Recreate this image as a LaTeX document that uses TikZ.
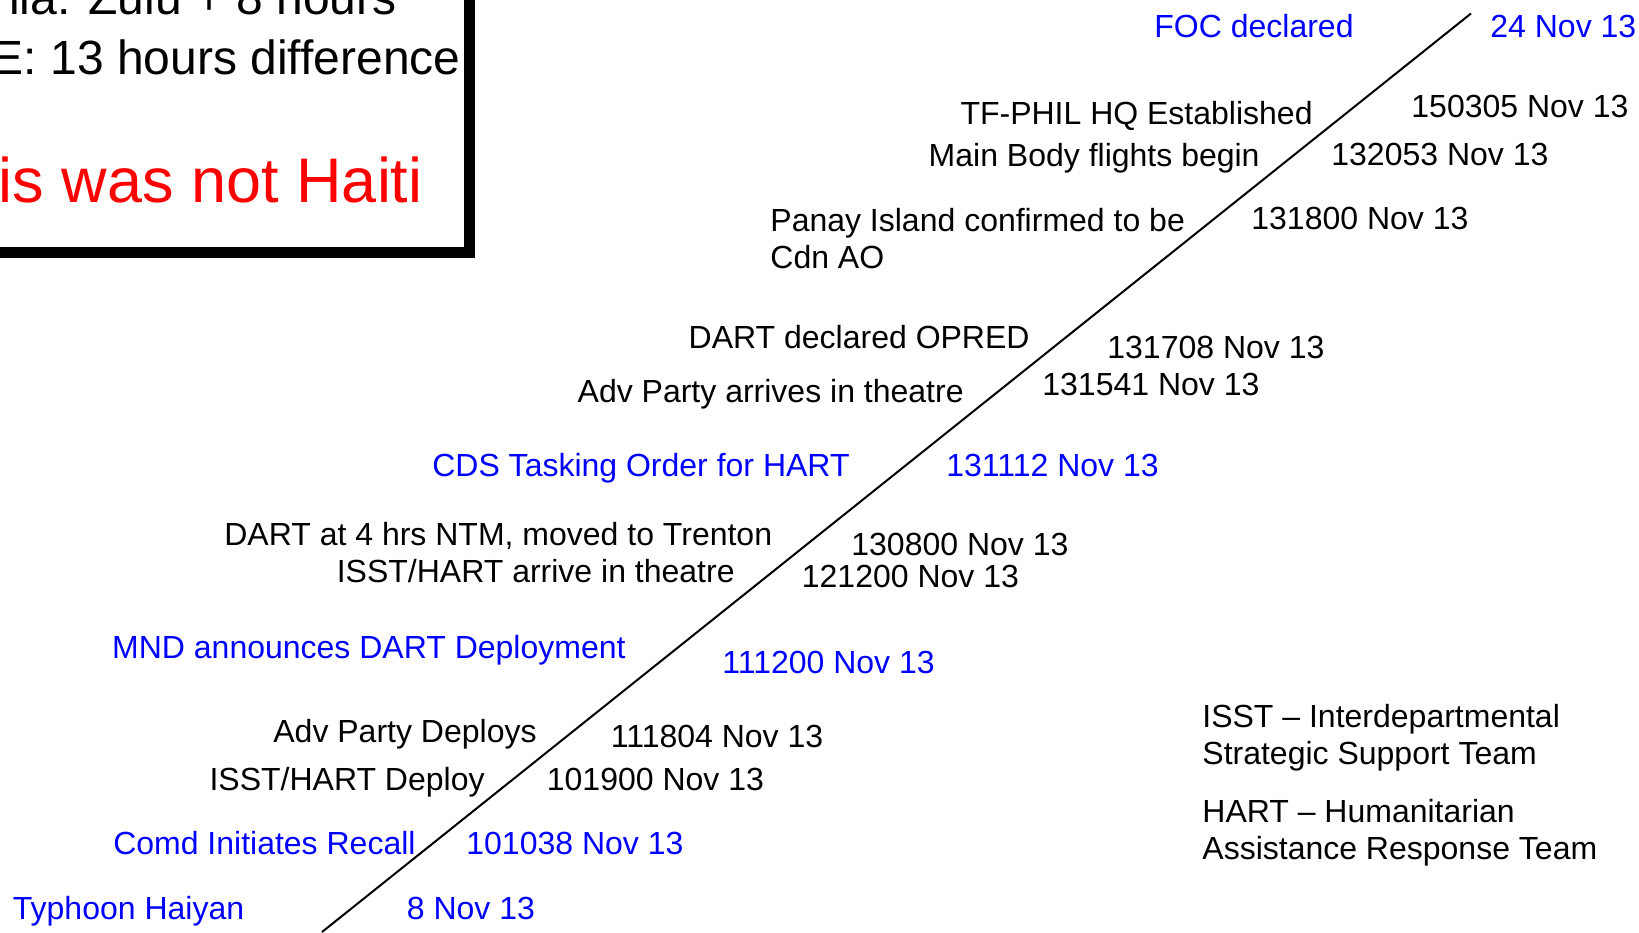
\documentclass[tikz,border=0pt]{standalone}
\usepackage{fontspec}
\setmainfont{Liberation Sans}
\usetikzlibrary{positioning}
\tikzstyle{every label text} = [inner sep=0pt, font=\fontsize{16}{18.75}\selectfont]
\tikzstyle{event} = [every label text, anchor=base east]
\tikzstyle{stamp} = [every label text, anchor=base west]
\tikzstyle{notes} = [every label text, anchor=north west, align=left]
\tikzstyle{milestone} = [text=blue]

\begin{document}
\begin{tikzpicture}[x=0.5pt,y=-0.5pt]
                    \useasboundingbox (0,0) rectangle (1639,932);
                    \clip (0,0) rectangle (1639,932);
                    % time zone box, cut by the slide edge
                    \draw[line width=5.5pt] (-40,-40) rectangle (469,252.5);
                    \node[anchor=base east, inner sep=0pt, font=\fontsize{24}{28}\selectfont] (zulu) at (397,14) {ila: Zulu + 8 hours};
                    \node[anchor=base east, inner sep=0pt, font=\fontsize{24}{28}\selectfont] (diff) at (461,74) {E: 13 hours difference};
                    \node[anchor=base east, inner sep=0pt, text=red, font=\fontsize{31.5}{36}\selectfont] (haiti) at (423,202) {is was not Haiti};

                    \coordinate (tstart) at (322,932);
                    \coordinate (tend) at (1471,13.5);
                    \draw[line width=1pt] (tstart) -- (tend);

                    \node[event, milestone] (foc) at (1354,37.5) {FOC declared};
                    \node[stamp, milestone] (foct) at (1490,37.5) {24 Nov 13};
                    \node[event] (hq) at (1313,124.5) {TF-PHIL HQ Established};
                    \node[stamp] (hqt) at (1411,117) {150305 Nov 13};
                    \node[event] (body) at (1260,166) {Main Body flights begin};
                    \node[stamp] (bodyt) at (1331,165) {132053 Nov 13};
                    \node[notes] (panay) at (770,207.5) {Panay Island confirmed to be\\Cdn AO};
                    \node[stamp] (panayt) at (1251,229) {131800 Nov 13};
                    \node[event] (opred) at (1030,348) {DART declared OPRED};
                    \node[stamp] (opredt) at (1107,358.5) {131708 Nov 13};
                    \node[event] (advarr) at (964,402.5) {Adv Party arrives in theatre};
                    \node[stamp] (advarrt) at (1042,395) {131541 Nov 13};
                    \node[event, milestone] (cds) at (850,476.5) {CDS Tasking Order for HART};
                    \node[stamp, milestone] (cdst) at (946,476.5) {131112 Nov 13};
                    \node[event] (ntm) at (772.5,545.5) {DART at 4 hrs NTM, moved to Trenton};
                    \node[stamp] (ntmt) at (851,555) {130800 Nov 13};
                    \node[event] (isstarr) at (735,582) {ISST/HART arrive in theatre};
                    \node[stamp] (isstarrt) at (801.5,587.5) {121200 Nov 13};
                    \node[event, milestone] (mnd) at (626,658.5) {MND announces DART Deployment};
                    \node[stamp, milestone] (mndt) at (722,673) {111200 Nov 13};
                    \node[event] (advdep) at (537,742) {Adv Party Deploys};
                    \node[stamp] (advdept) at (610.5,747.5) {111804 Nov 13};
                    \node[event] (isstdep) at (485,790) {ISST/HART Deploy};
                    \node[stamp] (isstdept) at (546.5,790) {101900 Nov 13};
                    \node[event, milestone] (recall) at (416,854) {Comd Initiates Recall};
                    \node[stamp, milestone] (recallt) at (466,854) {101038 Nov 13};
                    \node[stamp, milestone] (haiyan) at (12.5,919) {Typhoon Haiyan};
                    \node[stamp, milestone] (haiyant) at (406.5,919) {8 Nov 13};

                    \node[notes] (isst) at (1202,703.5) {ISST -- Interdepartmental\\Strategic Support Team};
                    \node[notes] (hart) at (1202,798.5) {HART -- Humanitarian\\Assistance Response Team};
                \end{tikzpicture}
\end{document}
